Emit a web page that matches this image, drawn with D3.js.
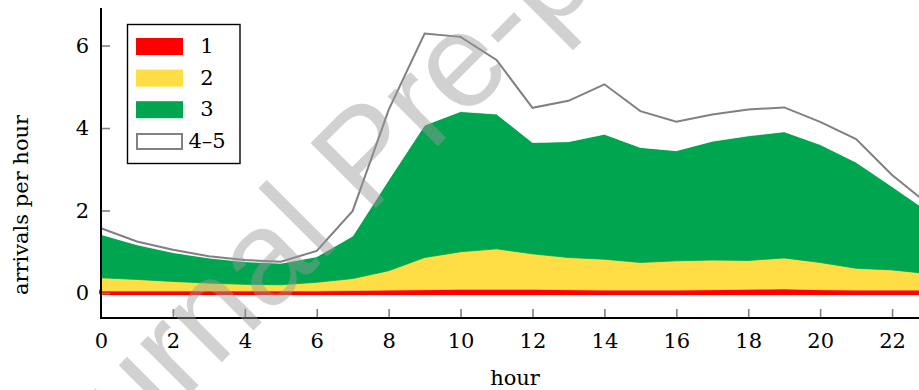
<!DOCTYPE html>
<html>
<head>
<meta charset="utf-8">
<script src="https://cdn.jsdelivr.net/npm/d3@7"></script>
<style>
  body { margin: 0; background: #fff; }
  svg { display: block; font-family: "DejaVu Serif", serif; }
</style>
</head>
<body>
<svg></svg>
<script>
// arrivals per hour by class
var hours = [0, 1, 2, 3, 4, 5, 6, 7, 8, 9, 10, 11, 12, 13, 14, 15, 16, 17, 18, 19, 20, 21, 22, 23];
var class1 = [0.05, 0.05, 0.05, 0.05, 0.05, 0.05, 0.05, 0.06, 0.07, 0.08, 0.09, 0.09, 0.09, 0.08, 0.07, 0.07, 0.07, 0.08, 0.09, 0.10, 0.08, 0.07, 0.07, 0.07];
var class2 = [0.32, 0.28, 0.23, 0.19, 0.16, 0.15, 0.21, 0.29, 0.47, 0.78, 0.91, 0.98, 0.86, 0.78, 0.75, 0.67, 0.71, 0.72, 0.70, 0.75, 0.66, 0.53, 0.49, 0.40];
var class3 = [1.05, 0.84, 0.70, 0.61, 0.55, 0.52, 0.62, 1.03, 2.20, 3.21, 3.40, 3.27, 2.70, 2.81, 3.03, 2.79, 2.67, 2.88, 3.02, 3.06, 2.86, 2.57, 2.02, 1.51];
var class45 = [0.15, 0.08, 0.07, 0.04, 0.04, 0.04, 0.14, 0.61, 1.70, 2.22, 1.81, 1.31, 0.84, 0.99, 1.21, 0.88, 0.70, 0.65, 0.64, 0.59, 0.55, 0.56, 0.28, 0.18];

var seriesKeys = ["c1", "c2", "c3", "c45"];
var legendLabels = ["1", "2", "3", "4\u20135"];
var xTicks = [0, 2, 4, 6, 8, 10, 12, 14, 16, 18, 20, 22];
var yTicks = [0, 2, 4, 6];

var width = 919;
var height = 390;
var colors = { c1: "#ff0000", c2: "#ffdd44", c3: "#00a54f", c45: "#ffffff" };

var rows = hours.map(function(h, i) {
  return { hour: h, c1: class1[i], c2: class2[i], c3: class3[i], c45: class45[i] };
});

var xScale = d3.scaleLinear().domain([0, 23]).range([101, 928]);
var yScale = d3.scaleLinear().domain([-0.6, 6.9]).range([317.75, 8.4]);

var stacked = d3.stack().keys(seriesKeys)(rows);

var svg = d3.select("svg")
    .attr("width", width)
    .attr("height", height);

var area = d3.area()
    .x(d => xScale(d.data.hour))
    .y0(d => yScale(d[0]))
    .y1(d => yScale(d[1]));

svg.selectAll("path.layer")
  .data(stacked)
  .enter()
  .append("path")
    .attr("class", "layer")
    .attr("d", area)
    .attr("fill", d => colors[d.key])
    .attr("stroke", d => colors[d.key])
    .attr("stroke-width", d => d.key === "c1" ? 4 : 0.8)
    .attr("stroke-linejoin", "round");

// top outline of the 4-5 class
var topLine = d3.line()
    .x(d => xScale(d.data.hour))
    .y(d => yScale(d[1]));

svg.append("path")
    .datum(stacked[3])
    .attr("d", topLine)
    .attr("fill", "none")
    .attr("stroke", "#808080")
    .attr("stroke-width", 2);

// axes
var xAxis = d3.axisBottom(xScale)
    .tickValues(xTicks)
    .tickSize(-9)
    .tickSizeOuter(0)
    .tickPadding(15)
    .tickFormat(d3.format("d"));

var yAxis = d3.axisLeft(yScale)
    .tickValues(yTicks)
    .tickSize(-9)
    .tickSizeOuter(0)
    .tickPadding(12)
    .tickFormat(d3.format("d"));

var gx = svg.append("g")
    .attr("transform", "translate(0," + 318 + ")")
    .call(xAxis);

var gy = svg.append("g")
    .attr("transform", "translate(101,0)")
    .call(yAxis);

[gx, gy].forEach(function(g) {
  g.select(".domain").remove();
  g.selectAll(".tick line").attr("stroke", "#808080").attr("stroke-width", 1.6);
  g.selectAll(".tick text")
      .attr("fill", "#000")
      .style("font-family", "DejaVu Serif, serif")
      .style("font-size", "21px");
});
gx.selectAll(".tick").filter(d => d === 0).select("line").remove();

svg.append("line")
    .attr("x1", 101).attr("x2", 101)
    .attr("y1", 8).attr("y2", 319)
    .attr("stroke", "#000")
    .attr("stroke-width", 2);

svg.append("line")
    .attr("x1", 100).attr("x2", width)
    .attr("y1", 318).attr("y2", 318)
    .attr("stroke", "#000")
    .attr("stroke-width", 2);

svg.append("text")
    .text("arrivals per hour")
    .attr("transform", "translate(28,205) rotate(-90)")
    .style("text-anchor", "middle")
    .style("font-size", "21px");

svg.append("text")
    .text("hour")
    .attr("x", 515)
    .attr("y", 385)
    .style("text-anchor", "middle")
    .style("font-size", "21px");

// legend
var legend = svg.append("g");

legend.append("rect")
    .attr("x", 127.5)
    .attr("y", 24.5)
    .attr("width", 112.5)
    .attr("height", 139)
    .attr("fill", "#fff")
    .attr("stroke", "#000")
    .attr("stroke-width", 1.4);

var items = legend.selectAll("g.item")
  .data(seriesKeys)
  .enter()
  .append("g")
    .attr("class", "item")
    .attr("transform", (d, i) => "translate(0," + (i * 31.6) + ")");

items.append("rect")
    .attr("x", d => d === "c45" ? 137 : 136)
    .attr("y", d => d === "c45" ? 134 - 3 * 31.6 : 38)
    .attr("width", d => d === "c45" ? 45 : 47)
    .attr("height", d => d === "c45" ? 15 : 17)
    .attr("fill", d => colors[d])
    .attr("stroke", d => d === "c45" ? "#808080" : "none")
    .attr("stroke-width", 2);

items.append("text")
    .text((d, i) => legendLabels[i])
    .attr("x", 207)
    .attr("y", 53)
    .style("text-anchor", "middle")
    .style("font-size", "21px");

// watermark
svg.append("text")
    .text("Journal Pre-proof")
    .attr("transform", "translate(31,553) rotate(-45)")
    .style("font-family", "Liberation Sans, Arial, sans-serif")
    .style("font-size", "134px")
    .attr("fill", "#9a9a9a")
    .attr("fill-opacity", 0.45);
</script>
</body>
</html>
